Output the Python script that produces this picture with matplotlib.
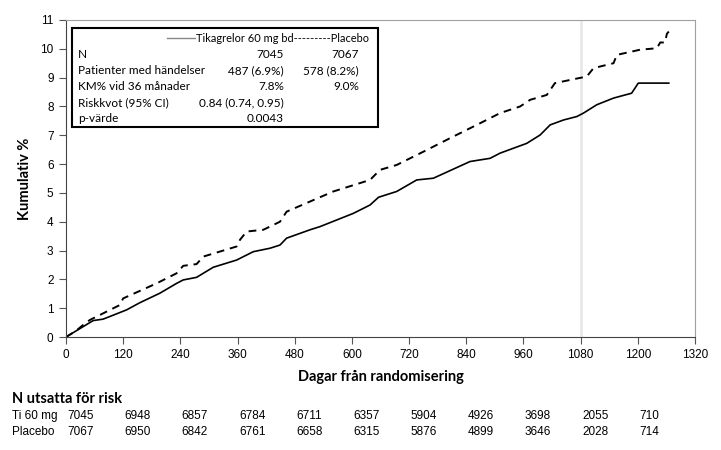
import numpy as np
import matplotlib.pyplot as plt
from matplotlib.transforms import blended_transform_factory

# kurvor (dagar, kumulativ %)
ti_days = [0, 20, 57, 78, 127, 155, 197, 232, 246, 274, 309, 358, 393, 428, 449, 463,
           512, 533, 603, 638, 656, 694, 736, 771, 848, 890, 911, 939, 967, 995, 1016,
           1044, 1072, 1086, 1114, 1149, 1187, 1201, 1265]
ti_vals = [0, 0.2, 0.57, 0.62, 0.94, 1.19, 1.52, 1.86, 1.98, 2.07, 2.42, 2.67, 2.96, 3.08,
           3.19, 3.43, 3.72, 3.83, 4.29, 4.58, 4.85, 5.05, 5.45, 5.51, 6.09, 6.20, 6.38,
           6.55, 6.72, 7.01, 7.36, 7.53, 7.65, 7.77, 8.06, 8.29, 8.46, 8.81, 8.81]

pl_days = [0, 20, 36, 50, 113, 120, 190, 232, 246, 274, 288, 358, 365, 379, 414, 449,
           463, 512, 561, 638, 659, 694, 750, 806, 862, 911, 953, 974, 1009, 1026, 1058,
           1093, 1107, 1149, 1156, 1205, 1240, 1247, 1257, 1261, 1265]
pl_vals = [0, 0.2, 0.42, 0.59, 1.11, 1.34, 1.86, 2.21, 2.47, 2.53, 2.79, 3.14, 3.37, 3.66,
           3.72, 4.0, 4.35, 4.70, 5.05, 5.45, 5.80, 5.97, 6.43, 6.90, 7.36, 7.77, 8.0,
           8.23, 8.40, 8.81, 8.92, 9.04, 9.33, 9.50, 9.79, 9.97, 10.02, 10.22, 10.22,
           10.52, 10.6]

risk_days = [0, 120, 240, 360, 480, 600, 720, 840, 960, 1080, 1200]
risk_ti = [7045, 6948, 6857, 6784, 6711, 6357, 5904, 4926, 3698, 2055, 710]
risk_pl = [7067, 6950, 6842, 6761, 6658, 6315, 5876, 4899, 3646, 2028, 714]

box_rows = ["N", "Patienter med händelser", "KM% vid 36 månader", "Riskkvot (95% CI)", "p-värde"]
box_ti = ["7045", "487 (6.9%)", "7.8%", "0.84 (0.74, 0.95)", "0.0043"]
box_pl = ["7067", "578 (8.2%)", "9.0%", "", ""]

calib = ["Lato", "DejaVu Sans"]
arial = ["Liberation Sans", "DejaVu Sans"]

fig = plt.figure(figsize=(7.21, 4.50), dpi=100)
ax = fig.add_axes([66 / 721, 1 - 337 / 450, 629 / 721, 317 / 450])

ax.axvline(1080, color="#e8e8e8", lw=2, zorder=0)
ax.plot(ti_days, ti_vals, color="black", lw=1.2, ls="-")
ax.plot(pl_days, pl_vals, color="black", lw=1.4, ls=(0, (4, 3)))

ax.set_xlim(0, 1320)
ax.set_ylim(0, 11)
ax.set_xticks(np.arange(0, 1321, 120))
ax.set_yticks(np.arange(0, 12, 1))
for lab in ax.get_xticklabels() + ax.get_yticklabels():
    lab.set_family(arial)
    lab.set_fontsize(8.5)
ax.tick_params(direction="out", length=5, width=0.8, color="#555555", pad=4)
ax.spines["top"].set_color("#a0a0a0")
ax.spines["right"].set_color("#a0a0a0")
ax.spines["left"].set_color("#444444")
ax.spines["bottom"].set_color("#444444")

ax.set_xlabel("Dagar från randomisering", family=calib, fontsize=10.5, fontweight="bold", labelpad=6)
ax.set_ylabel("Kumulativ %", family=calib, fontsize=10.5, fontweight="bold", labelpad=6)

# ruta med sammanfattning
px = lambda x: (x - 66) / 629
py = lambda y: (337 - y) / 317
ax.add_patch(plt.Rectangle((px(72), py(127)), px(378) - px(72), py(28) - py(127),
                           transform=ax.transAxes, fill=True, facecolor="white",
                           edgecolor="black", lw=1.5, zorder=3))
ax.plot([px(167), px(195)], [py(38), py(38)], transform=ax.transAxes, color="#888888",
        lw=1, zorder=4)
ax.text(px(196), py(38), "Tikagrelor 60 mg bd---------Placebo", transform=ax.transAxes,
        ha="left", va="center", family=calib, fontsize=7.9, zorder=4)
row_y = [55, 71, 87, 103, 118]
for name, a, b, yy in zip(box_rows, box_ti, box_pl, row_y):
    ax.text(px(78), py(yy), name, transform=ax.transAxes, ha="left", va="center",
            family=calib, fontsize=8.5, zorder=4)
    ax.text(px(284), py(yy), a, transform=ax.transAxes, ha="right", va="center",
            family=calib, fontsize=8.5, zorder=4)
    ax.text(px(359), py(yy), b, transform=ax.transAxes, ha="right", va="center",
            family=calib, fontsize=8.5, zorder=4)

# risktabell
fig.text(12 / 721, 1 - 399 / 450, "N utsatta för risk", family=calib, fontsize=10.5,
         fontweight="bold", va="center")
tr = blended_transform_factory(ax.transData, fig.transFigure)
for label, vals, yy in [("Ti 60 mg", risk_ti, 416), ("Placebo", risk_pl, 432)]:
    fig.text(12 / 721, 1 - yy / 450, label, family=arial, fontsize=8.5, va="center")
    for d, v in zip(risk_days, vals):
        ax.text(d + 3, 1 - yy / 450, str(v), transform=tr, family=arial, fontsize=8.5,
                va="center", ha="left", clip_on=False)

fig.savefig("out.png", dpi=100)
